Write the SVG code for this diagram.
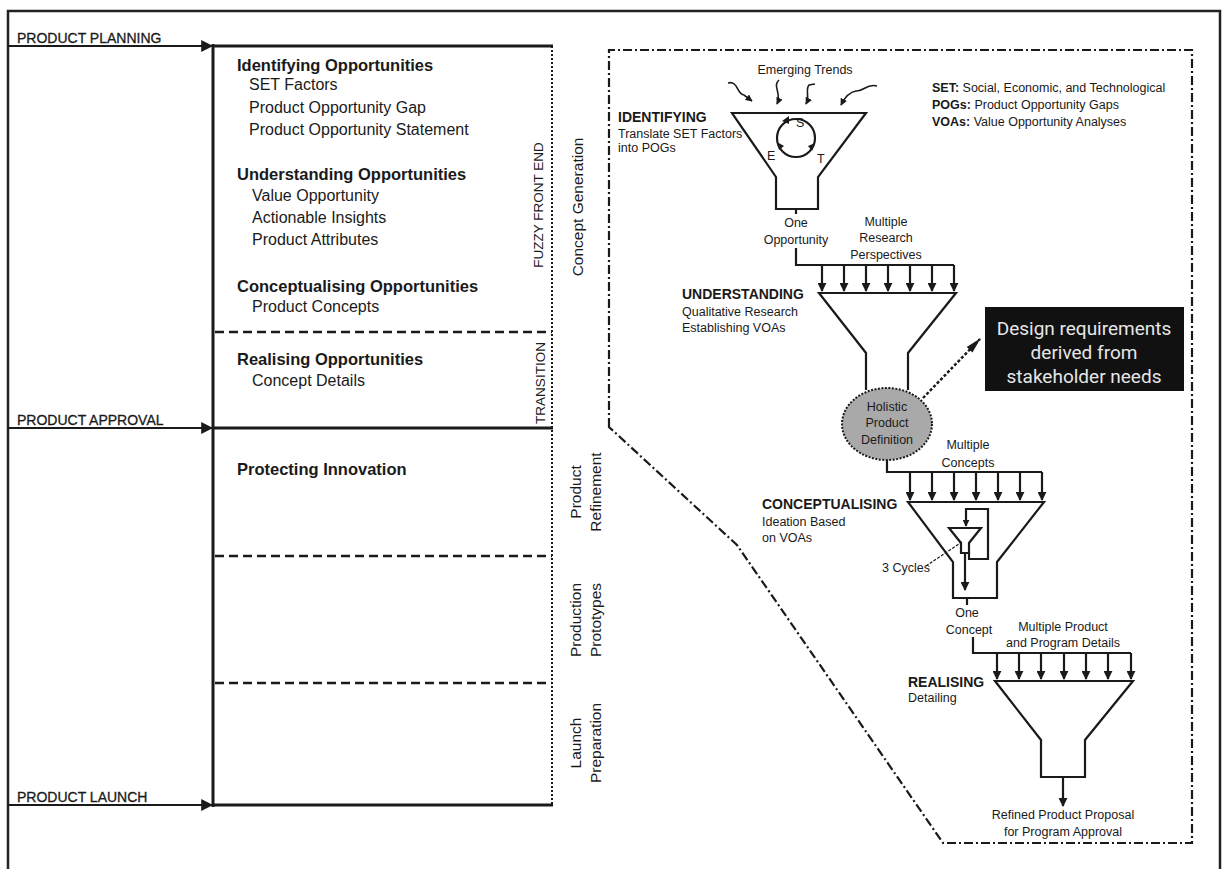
<svg xmlns="http://www.w3.org/2000/svg" width="1223" height="869" viewBox="0 0 1223 869">
  <defs>
    <marker id="tri" viewBox="0 0 10 10" refX="9" refY="5" markerWidth="9" markerHeight="9" markerUnits="userSpaceOnUse" orient="auto">
      <path d="M0,0 L10,5 L0,10 z" fill="#1a1a1a"/>
    </marker>
    <marker id="tri-sm" viewBox="0 0 10 10" refX="9" refY="5" markerWidth="7" markerHeight="7" markerUnits="userSpaceOnUse" orient="auto">
      <path d="M0,0 L10,5 L0,10 z" fill="#1a1a1a"/>
    </marker>
    <marker id="tri-lg" viewBox="0 0 10 10" refX="9" refY="5" markerWidth="12" markerHeight="12" markerUnits="userSpaceOnUse" orient="auto">
      <path d="M0,0 L10,5 L0,10 z" fill="#1a1a1a"/>
    </marker>
    <marker id="leader" viewBox="0 0 16 10" refX="15" refY="5" markerWidth="16" markerHeight="10" markerUnits="userSpaceOnUse" orient="auto">
      <path d="M0,1 L16,5 L0,9 z" fill="#1a1a1a"/>
    </marker>
  </defs>
  <style>
    text { font-family: "Liberation Sans", Arial, sans-serif; fill: #1a1a1a; }
    .milestone { font-size: 14px; stroke: #1a1a1a; stroke-width: 0.3; }
    .head { font-size: 16.5px; font-weight: bold; }
    .item { font-size: 16px; }
    .vcap { font-size: 13.5px; text-anchor: middle; }
    .vlab { font-size: 15.5px; text-anchor: middle; }
    .stage { font-size: 14px; font-weight: bold; }
    .note { font-size: 12.5px; }
    .mid { text-anchor: middle; }
    .callout { font-family: Roboto, "DejaVu Sans", sans-serif; font-size: 19px; fill: #e6e6e6; text-anchor: middle; }
    .thick { stroke: #1a1a1a; stroke-width: 3; fill: none; }
    .line { stroke: #1a1a1a; stroke-width: 2.2; fill: none; }
    .thin { stroke: #1a1a1a; stroke-width: 1.6; fill: none; }
    .dash { stroke: #1a1a1a; stroke-width: 2.5; stroke-dasharray: 9 5; fill: none; }
    .dots { stroke: #1a1a1a; stroke-width: 2; stroke-dasharray: 2 2; fill: none; }
    .dashdot { stroke: #1a1a1a; stroke-width: 2.2; stroke-dasharray: 9 3 2 3; fill: none; }
  </style>

  <!-- outer frame -->
  <rect x="8" y="11" width="1212" height="900" fill="#fff" stroke="#222" stroke-width="2.5"/>

  <!-- milestone connectors -->
  <g id="connectors">
    <line class="line" x1="8" y1="46" x2="212" y2="46" marker-end="url(#tri-lg)"/>
    <line class="line" x1="8" y1="428" x2="212" y2="428" marker-end="url(#tri-lg)"/>
    <line class="line" x1="8" y1="805" x2="212" y2="805" marker-end="url(#tri-lg)"/>

    <!-- funnel feed lines and input arrows -->
    <path class="line" d="M796,209 L796,214"/>
    <path class="line" d="M796,248 L796,265 L954,265"/>
    <g class="line" marker-end="url(#tri)">
      <line x1="822" y1="265" x2="822" y2="291"/>
      <line x1="844" y1="265" x2="844" y2="291"/>
      <line x1="866" y1="265" x2="866" y2="291"/>
      <line x1="888" y1="265" x2="888" y2="291"/>
      <line x1="910" y1="265" x2="910" y2="291"/>
      <line x1="932" y1="265" x2="932" y2="291"/>
      <line x1="954" y1="265" x2="954" y2="291"/>
    </g>
    <path class="line" d="M887,460 L887,472 L1042,472"/>
    <g class="line" marker-end="url(#tri)">
      <line x1="910" y1="472" x2="910" y2="500"/>
      <line x1="932" y1="472" x2="932" y2="500"/>
      <line x1="954" y1="472" x2="954" y2="500"/>
      <line x1="976" y1="472" x2="976" y2="500"/>
      <line x1="998" y1="472" x2="998" y2="500"/>
      <line x1="1020" y1="472" x2="1020" y2="500"/>
      <line x1="1042" y1="472" x2="1042" y2="500"/>
    </g>
    <path class="line" d="M967,598 L967,605"/>
    <path class="line" d="M973,637 L973,653 L1131,653"/>
    <g class="line" marker-end="url(#tri)">
      <line x1="997" y1="653" x2="997" y2="679"/>
      <line x1="1019" y1="653" x2="1019" y2="679"/>
      <line x1="1041" y1="653" x2="1041" y2="679"/>
      <line x1="1064" y1="653" x2="1064" y2="679"/>
      <line x1="1086" y1="653" x2="1086" y2="679"/>
      <line x1="1108" y1="653" x2="1108" y2="679"/>
      <line x1="1131" y1="653" x2="1131" y2="679"/>
    </g>
    <line class="line" x1="1063" y1="777" x2="1063" y2="806" marker-end="url(#tri)"/>

    <!-- emerging trends -->
    <g class="thin" stroke-width="2" marker-end="url(#tri-sm)">
      <path d="M728,83 C738,80 737,95 744,95 L752,101"/>
      <path d="M779,80 C772,86 782,93 777,104"/>
      <path d="M815,84 L809,85 C805,90 810,96 806,104"/>
      <path d="M877,86 C867,83 863,92 856,91 C849,92 845,97 841,105"/>
    </g>

    <!-- leader to callout -->
    <line x1="923" y1="398" x2="980" y2="339" stroke="#1a1a1a" stroke-width="2.5" stroke-dasharray="3 2" marker-end="url(#leader)"/>
  </g>

  <!-- left phase table -->
  <g id="phase-table">
    <line class="thick" x1="213" y1="44" x2="213" y2="807" stroke-width="3.5"/>
    <line class="thick" x1="213" y1="46" x2="553" y2="46"/>
    <line class="thick" x1="213" y1="428" x2="553" y2="428"/>
    <line class="thick" x1="213" y1="805" x2="553" y2="805"/>
    <line class="dots" x1="552" y1="46" x2="552" y2="805"/>
    <line class="dash" x1="215" y1="332" x2="552" y2="332"/>
    <line class="dash" x1="215" y1="556" x2="552" y2="556"/>
    <line class="dash" x1="215" y1="683" x2="552" y2="683"/>
  </g>

  <g id="milestones">
    <text class="milestone" x="17" y="43">PRODUCT PLANNING</text>
    <text class="milestone" x="17" y="425">PRODUCT APPROVAL</text>
    <text class="milestone" x="17" y="802">PRODUCT LAUNCH</text>
  </g>

  <g id="fuzzy-front-end">
    <text class="head" x="237" y="71">Identifying Opportunities</text>
    <text class="item" x="249" y="90">SET Factors</text>
    <text class="item" x="249" y="113">Product Opportunity Gap</text>
    <text class="item" x="249" y="135">Product Opportunity Statement</text>
    <text class="head" x="237" y="180">Understanding Opportunities</text>
    <text class="item" x="252" y="201">Value Opportunity</text>
    <text class="item" x="252" y="223">Actionable Insights</text>
    <text class="item" x="252" y="245">Product Attributes</text>
    <text class="head" x="237" y="292">Conceptualising Opportunities</text>
    <text class="item" x="252" y="312">Product Concepts</text>
  </g>

  <g id="transition">
    <text class="head" x="237" y="365">Realising Opportunities</text>
    <text class="item" x="252" y="386">Concept Details</text>
  </g>

  <g id="refinement">
    <text class="head" x="237" y="475">Protecting Innovation</text>
  </g>

  <g id="phase-labels">
    <text class="vcap" transform="translate(543,205) rotate(-90)">FUZZY FRONT END</text>
    <text class="vcap" transform="translate(545,383) rotate(-90)">TRANSITION</text>
    <text class="vlab" transform="translate(583,207) rotate(-90)">Concept Generation</text>
    <text class="vlab" transform="translate(581,492) rotate(-90)">Product</text>
    <text class="vlab" transform="translate(601,492) rotate(-90)">Refinement</text>
    <text class="vlab" transform="translate(581,620) rotate(-90)">Production</text>
    <text class="vlab" transform="translate(601,620) rotate(-90)">Prototypes</text>
    <text class="vlab" transform="translate(581,743) rotate(-90)">Launch</text>
    <text class="vlab" transform="translate(601,743) rotate(-90)">Preparation</text>
  </g>

  <!-- concept generation boundary -->
  <path id="concept-boundary" class="dashdot" d="M609,427 L609,50 L1192,50 L1192,843 L943,843 L737,545 Z"/>

  <g id="legend">
    <text class="note" x="932" y="92"><tspan font-weight="bold">SET:</tspan> Social, Economic, and Technological</text>
    <text class="note" x="932" y="109"><tspan font-weight="bold">POGs:</tspan> Product Opportunity Gaps</text>
    <text class="note" x="932" y="126"><tspan font-weight="bold">VOAs:</tspan> Value Opportunity Analyses</text>
  </g>

  <g id="identifying">
    <text class="note mid" x="805" y="74">Emerging Trends</text>
    <path class="line" stroke-width="2.5" d="M732,113 L866,113 L818,177 L818,209 L776,209 L776,177 Z"/>
    <circle class="line" cx="796" cy="138" r="19" stroke-width="2.5"/>
    <path d="M782,121 L789,116 L789,124 z M779,150 L777,142 L784,146 z M812,151 L815,143 L808,146 z" fill="#1a1a1a"/>
    <text class="note" x="796" y="127">S</text>
    <text class="note" x="767" y="160">E</text>
    <text class="note" x="817" y="163">T</text>
    <text class="stage" x="618" y="122">IDENTIFYING</text>
    <text class="note" x="618" y="138">Translate SET Factors</text>
    <text class="note" x="618" y="152">into POGs</text>
    <text class="note mid" x="796" y="227">One</text>
    <text class="note mid" x="796" y="244">Opportunity</text>
    <text class="note mid" x="886" y="226">Multiple</text>
    <text class="note mid" x="886" y="242">Research</text>
    <text class="note mid" x="886" y="259">Perspectives</text>
  </g>

  <g id="understanding">
    <path class="line" stroke-width="2.5" d="M866,390 L866,353 L819,293 L956,293 L908,353 L908,390"/>
    <text class="stage" x="682" y="299">UNDERSTANDING</text>
    <text class="note" x="682" y="316">Qualitative Research</text>
    <text class="note" x="682" y="332">Establishing VOAs</text>
  </g>

  <g id="holistic-definition">
    <ellipse cx="887" cy="424" rx="45" ry="36" fill="#a9a9a9" stroke="#1a1a1a" stroke-width="2" stroke-dasharray="2 1.5"/>
    <text class="note mid" x="887" y="411">Holistic</text>
    <text class="note mid" x="887" y="427">Product</text>
    <text class="note mid" x="887" y="444">Definition</text>
  </g>

  <g id="design-requirements">
    <rect x="985" y="307" width="199" height="84" fill="#111"/>
    <text class="callout" x="1084" y="335">Design requirements</text>
    <text class="callout" x="1084" y="359">derived from</text>
    <text class="callout" x="1084" y="383">stakeholder needs</text>
  </g>

  <g id="conceptualising">
    <text class="note mid" x="968" y="449">Multiple</text>
    <text class="note mid" x="968" y="467">Concepts</text>
    <path class="line" stroke-width="2.5" d="M908,502 L1044,502 L997,562 L997,598 L953,598 L953,562 Z"/>
    <path class="line" d="M949,528 L981,528 L969,543 L969,553 L961,553 L961,543 Z"/>
    <path class="line" d="M969,553 L969,559 L988,559 L988,509 L966,509 L966,526" marker-end="url(#tri-sm)"/>
    <line class="line" x1="965" y1="553" x2="965" y2="590" marker-end="url(#tri)"/>
    <line x1="926" y1="566" x2="962" y2="542" stroke="#1a1a1a" stroke-width="1.2" stroke-dasharray="3 1.5"/>
    <text class="stage" x="762" y="509">CONCEPTUALISING</text>
    <text class="note" x="762" y="526">Ideation Based</text>
    <text class="note" x="762" y="542">on VOAs</text>
    <text class="note" x="882" y="572">3 Cycles</text>
    <text class="note mid" x="967" y="617">One</text>
    <text class="note mid" x="969" y="634">Concept</text>
  </g>

  <g id="realising">
    <text class="note mid" x="1063" y="631">Multiple Product</text>
    <text class="note mid" x="1063" y="647">and Program Details</text>
    <path class="line" stroke-width="2.5" d="M995,681 L1133,681 L1085,740 L1085,777 L1041,777 L1041,740 Z"/>
    <text class="stage" x="908" y="687">REALISING</text>
    <text class="note" x="908" y="702">Detailing</text>
    <text class="note mid" x="1063" y="819">Refined Product Proposal</text>
    <text class="note mid" x="1063" y="836">for Program Approval</text>
  </g>
</svg>
